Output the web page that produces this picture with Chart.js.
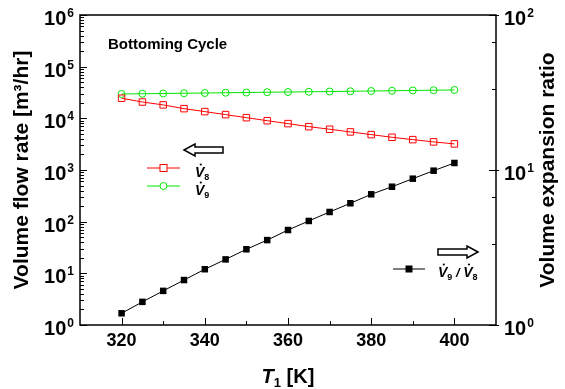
<!DOCTYPE html>
<html>
<head>
<meta charset="utf-8">
<script src="https://cdn.jsdelivr.net/npm/chart.js@4.4.0/dist/chart.umd.min.js"></script>
<style>
    html, body { margin: 0; padding: 0; background: #fff; }
</style>
</head>
<body>
<canvas id="chart1" width="565" height="389"></canvas>
<script>
// values
const temperatures = [320, 325, 330, 335, 340, 345, 350, 355, 360, 365, 370, 375, 380, 385, 390, 395, 400];
const flowV8 = [24500, 20700, 18200, 15400, 13500, 11800, 10300, 9000, 7900, 6900, 6150, 5460, 4840, 4300, 3870, 3500, 3200];
const flowV9 = [29600, 29900, 30300, 30600, 30900, 31300, 31600, 32000, 32300, 32700, 33000, 33400, 33800, 34200, 34600, 35000, 35400];
const expansionRatio = [1.19, 1.41, 1.66, 1.95, 2.29, 2.65, 3.08, 3.53, 4.10, 4.69, 5.36, 6.10, 6.97, 7.80, 8.79, 9.90, 11.1];

const tempTicks = [320, 340, 360, 380, 400];
const tempMinorTicks = [330, 350, 370, 390];
const flowExponents = [0, 1, 2, 3, 4, 5, 6];
const ratioExponents = [0, 1, 2];
const ratioMinorTicks = [3.333, 6.667, 33.33, 66.67];

const FONT = '"Liberation Sans", Arial, sans-serif';

const points = (vals) => temperatures.map((t, i) => ({ x: t, y: vals[i] }));

function drawPower(ctx, x, y, exp, align) {
    const big = `bold 20px ${FONT}`, small = `bold 12px ${FONT}`;
    ctx.font = big;
    const bw = ctx.measureText('10').width;
    ctx.font = small;
    const ew = ctx.measureText(String(exp)).width;
    const left = align === 'right' ? x - bw - ew - 1 : x;
    ctx.textAlign = 'left';
    ctx.textBaseline = 'alphabetic';
    ctx.font = big;
    ctx.fillText('10', left, y + 10);
    ctx.font = small;
    ctx.fillText(String(exp), left + bw + 1, y + 2);
}

// italic V with a dot on top and a subscript number
function drawVdot(ctx, x, y, sub) {
    ctx.textAlign = 'left';
    ctx.textBaseline = 'alphabetic';
    ctx.font = `italic bold 14px ${FONT}`;
    const w = ctx.measureText('V').width;
    ctx.fillText('V', x, y + 5);
    ctx.beginPath();
    ctx.arc(x + w * 0.62, y - 7.5, 1.1, 0, Math.PI * 2);
    ctx.fill();
    ctx.font = `bold 9px ${FONT}`;
    ctx.fillText(sub, x + w, y + 8);
    return x + w + ctx.measureText(sub).width;
}

function blockArrow(ctx, tipX, tailX, yc) {
    const dir = tailX > tipX ? 1 : -1;
    const hl = 11, hh = 6, sh = 3;
    ctx.beginPath();
    ctx.moveTo(tipX, yc);
    ctx.lineTo(tipX + dir * hl, yc - hh);
    ctx.lineTo(tipX + dir * hl, yc - sh);
    ctx.lineTo(tailX, yc - sh);
    ctx.lineTo(tailX, yc + sh);
    ctx.lineTo(tipX + dir * hl, yc + sh);
    ctx.lineTo(tipX + dir * hl, yc + hh);
    ctx.closePath();
    ctx.stroke();
}

function legendLine(ctx, x0, x1, y, color, style) {
    ctx.strokeStyle = color;
    ctx.fillStyle = color;
    ctx.lineWidth = 1;
    ctx.beginPath();
    ctx.moveTo(x0, y);
    ctx.lineTo(x1, y);
    ctx.stroke();
    const xm = (x0 + x1) / 2;
    if (style === 'rect') {
        ctx.fillStyle = '#fff';
        ctx.fillRect(xm - 3.5, y - 3.5, 7, 7);
        ctx.strokeRect(xm - 3.5, y - 3.5, 7, 7);
    } else if (style === 'fill') {
        ctx.fillRect(xm - 3.5, y - 3.5, 7, 7);
    } else {
        ctx.fillStyle = '#fff';
        ctx.beginPath();
        ctx.arc(xm, y, 3.5, 0, Math.PI * 2);
        ctx.fill();
        ctx.stroke();
    }
}

const decorPlugin = {
    id: 'decor',
    afterDraw(chart) {
        const { ctx, chartArea: a, scales } = chart;
        const xs = scales.x, yl = scales.y, yr = scales.y1;
        ctx.save();
        ctx.strokeStyle = '#000';
        ctx.fillStyle = '#000';

        // frame
        ctx.lineWidth = 1.5;
        ctx.strokeRect(a.left, a.top, a.right - a.left, a.bottom - a.top);

        // left ticks (inward)
        ctx.lineWidth = 1;
        ctx.beginPath();
        flowExponents.forEach(e => {
            for (let k = 1; k <= 9; k++) {
                if (e === 6 && k > 1) break;
                const py = Math.round(yl.getPixelForValue(k * Math.pow(10, e))) + 0.5;
                const len = k === 1 ? 7 : 4;
                ctx.moveTo(a.left, py);
                ctx.lineTo(a.left + len, py);
            }
        });
        // bottom ticks
        tempTicks.forEach(t => {
            const px = Math.round(xs.getPixelForValue(t)) + 0.5;
            ctx.moveTo(px, a.bottom);
            ctx.lineTo(px, a.bottom - 7);
        });
        tempMinorTicks.forEach(t => {
            const px = Math.round(xs.getPixelForValue(t)) + 0.5;
            ctx.moveTo(px, a.bottom);
            ctx.lineTo(px, a.bottom - 4);
        });
        // right ticks
        ratioExponents.forEach(e => {
            const py = Math.round(yr.getPixelForValue(Math.pow(10, e))) + 0.5;
            ctx.moveTo(a.right + 3, py);
            ctx.lineTo(a.right - 7, py);
        });
        ratioMinorTicks.forEach(v => {
            const py = Math.round(yr.getPixelForValue(v)) + 0.5;
            ctx.moveTo(a.right, py);
            ctx.lineTo(a.right - 4, py);
        });
        ctx.stroke();

        // tick labels
        flowExponents.forEach(e => drawPower(ctx, a.left - 6, yl.getPixelForValue(Math.pow(10, e)), e, 'right'));
        ratioExponents.forEach(e => drawPower(ctx, a.right + 8, yr.getPixelForValue(Math.pow(10, e)), e, 'left'));
        ctx.font = `bold 18px ${FONT}`;
        ctx.textAlign = 'center';
        ctx.textBaseline = 'middle';
        tempTicks.forEach(t => ctx.fillText(String(t), xs.getPixelForValue(t), a.bottom + 16));

        // axis titles
        const midY = (a.top + a.bottom) / 2;
        ctx.font = `bold 21px ${FONT}`;
        ctx.save();
        ctx.translate(22, midY);
        ctx.rotate(-Math.PI / 2);
        ctx.fillText('Volume flow rate [m\u00B3/hr]', 0, 0);
        ctx.restore();
        ctx.save();
        ctx.translate(548, midY);
        ctx.rotate(-Math.PI / 2);
        ctx.fillText('Volume expansion ratio', 0, 0);
        ctx.restore();

        // x title: T1 [K]
        ctx.textAlign = 'left';
        ctx.textBaseline = 'alphabetic';
        const tFont = `italic bold 20px ${FONT}`, sFont = `bold 13px ${FONT}`, kFont = `bold 20px ${FONT}`;
        ctx.font = tFont; const tw = ctx.measureText('T').width;
        ctx.font = sFont; const sw = ctx.measureText('1').width;
        ctx.font = kFont; const kw = ctx.measureText(' [K]').width;
        const cx = (a.left + a.right) / 2;
        let tx = cx - (tw + sw + kw) / 2;
        const ty = 383;
        ctx.font = tFont; ctx.fillText('T', tx, ty);
        ctx.font = sFont; ctx.fillText('1', tx + tw, ty + 4);
        ctx.font = kFont; ctx.fillText(' [K]', tx + tw + sw, ty);

        // annotation
        ctx.font = `bold 15px ${FONT}`;
        ctx.textBaseline = 'middle';
        ctx.fillText('Bottoming Cycle', a.left + 28, a.top + 30);

        // legends and arrows
        ctx.lineWidth = 1.5;
        blockArrow(ctx, a.left + 104, a.left + 143, a.top + 135);
        blockArrow(ctx, a.left + 398, a.left + 358, a.top + 237);

        legendLine(ctx, a.left + 67, a.left + 100, a.top + 153, '#ff0000', 'rect');
        legendLine(ctx, a.left + 67, a.left + 100, a.top + 171, '#00e600', 'circle');
        legendLine(ctx, a.left + 313, a.left + 345, a.top + 254, '#000', 'fill');

        ctx.fillStyle = '#000';
        drawVdot(ctx, a.left + 115, a.top + 157, '8');
        drawVdot(ctx, a.left + 115, a.top + 175, '9');
        let ex = drawVdot(ctx, a.left + 358, a.top + 257, '9');
        ctx.font = `italic bold 13px ${FONT}`;
        ctx.fillText(' / ', ex, a.top + 262);
        ex += ctx.measureText(' / ').width;
        drawVdot(ctx, ex, a.top + 257, '8');

        ctx.restore();
    }
};

new Chart(document.getElementById('chart1'), {
    type: 'line',
    data: {
        datasets: [{
            label: 'V8',
            data: points(flowV8),
            yAxisID: 'y',
            borderColor: '#ff0000',
            borderWidth: 1,
            pointStyle: 'rect',
            pointRadius: 4.6,
            pointBorderWidth: 1,
            pointBackgroundColor: 'rgba(255,255,255,0)',
            pointBorderColor: '#ff0000'
        }, {
            label: 'V9',
            data: points(flowV9),
            yAxisID: 'y',
            borderColor: '#00e600',
            borderWidth: 1,
            pointStyle: 'circle',
            pointRadius: 3.5,
            pointBorderWidth: 1,
            pointBackgroundColor: 'rgba(255,255,255,0)',
            pointBorderColor: '#00e600'
        }, {
            label: 'V9 / V8',
            data: points(expansionRatio),
            yAxisID: 'y1',
            borderColor: '#000',
            borderWidth: 1,
            pointStyle: 'rect',
            pointRadius: 4.6,
            pointBorderWidth: 0,
            pointBackgroundColor: '#000'
        }]
    },
    options: {
        responsive: false,
        devicePixelRatio: 1,
        animation: false,
        layout: { padding: { left: 80, right: 69, top: 15, bottom: 64 } },
        plugins: { legend: { display: false }, tooltip: { enabled: false } },
        scales: {
            x: { type: 'linear', min: 310, max: 410, display: false },
            y: { type: 'logarithmic', min: 1, max: 1e6, display: false },
            y1: { type: 'logarithmic', position: 'right', min: 1, max: 100, display: false }
        }
    },
    plugins: [decorPlugin]
});
</script>
</body>
</html>
